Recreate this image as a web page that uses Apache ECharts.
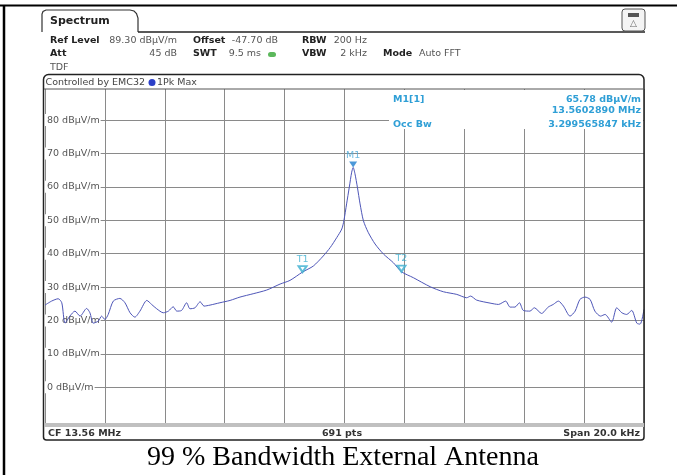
<!DOCTYPE html>
<html><head><meta charset="utf-8">
<script src="https://cdn.jsdelivr.net/npm/echarts@6/dist/echarts.min.js"></script>
<style>html,body{margin:0;padding:0;background:#fff}#c{width:677px;height:475px}</style>
</head><body><div id="c"></div><script>
// frequency offset from CF 13.56 MHz, kHz
const freqKHz = [-10.0,-9.78,-9.56,-9.44,-9.33,-9.17,-9.0,-8.83,-8.61,-8.5,-8.39,-8.22,-8.11,-8.0,-7.89,-7.72,-7.5,-7.33,-7.16,-7.0,-6.83,-6.6,-6.44,-6.27,-6.05,-5.88,-5.72,-5.6,-5.44,-5.27,-5.16,-4.99,-4.82,-4.69,-4.49,-4.16,-3.82,-3.49,-3.05,-2.6,-2.15,-1.82,-1.4,-1.04,-0.71,-0.48,-0.26,-0.09,-0.02,0.07,0.16,0.24,0.29,0.35,0.43,0.52,0.63,0.79,1.02,1.3,1.63,1.9,2.3,2.86,3.3,3.75,4.08,4.21,4.41,4.86,5.14,5.38,5.53,5.69,5.84,5.97,6.19,6.34,6.58,6.8,6.97,7.14,7.31,7.53,7.7,7.86,8.03,8.2,8.36,8.55,8.7,8.92,9.09,9.26,9.42,9.59,9.76,9.87,10.0];
// level, dBµV/m
const levelDb = [24.6,25.8,26.5,25.3,19.2,21.3,22.8,21.3,23.6,22.3,19.2,19.8,21.3,20.3,21.8,25.8,26.6,25.3,22.3,21.0,22.8,26.0,24.8,23.5,22.3,22.8,24.1,22.8,23.0,25.3,23.5,23.8,25.6,24.3,24.6,25.3,26.0,27.0,28.0,29.1,30.9,32.0,34.5,36.3,39.3,41.8,44.8,47.4,49.9,54.9,59.9,64.4,65.78,63.9,59.9,54.9,49.9,46.4,42.9,39.9,37.3,34.6,32.8,30.1,28.6,27.8,26.8,27.3,26.1,25.2,24.8,25.8,24.0,24.0,25.3,23.0,22.8,23.8,22.1,24.0,24.8,25.8,24.3,21.3,22.8,26.3,27.0,26.3,22.8,21.3,21.8,19.5,23.8,22.3,21.8,23.0,19.2,18.9,23.3];
const yTicks = [0,10,20,30,40,50,60,70,80];
const markerNames = ['M1','T1','T2'];
const markerFreq = [0.289,-1.40,1.90];
const markerLevel = [65.78,34.5,34.6];
const markerInfoLeft = ['M1[1]','Occ Bw'];
const markerInfoRight = ['65.78 dBµV/m','13.5602890 MHz','3.299565847 kHz'];
const caption = '99 % Bandwidth External Antenna';

const F = 'DejaVu Sans';
const BLUE = '#2f9fd6';
function txt(x, y, s, o) {
  o = o || {};
  return {type:'text', x:x, y:y, z:20, style:{text:s, fill:o.c||'#555', font:(o.b?'bold ':'')+(o.s||9.5)+'px "'+(o.f||F)+'"', textAlign:o.a||'left', textVerticalAlign:'middle'}};
}
const g = [];
// page border
g.push({type:'line', z:20, shape:{x1:0,y1:5.5,x2:677,y2:5.5}, style:{stroke:'#000', lineWidth:2}});
g.push({type:'line', z:20, shape:{x1:4,y1:5,x2:4,y2:475}, style:{stroke:'#000', lineWidth:2.5}});
// tab
g.push({type:'polyline', z:20, shape:{points:[[42,32],[42,14],[43,11.5],[46,10],[130,10],[134,11],[136.5,13.5],[138,18],[138,32]]}, style:{stroke:'#333', lineWidth:1.2, fill:null}});
g.push({type:'line', z:20, shape:{x1:138,y1:32,x2:645,y2:32}, style:{stroke:'#222', lineWidth:1.5}});
g.push(txt(50,21.5,'Spectrum',{b:true,s:11,c:'#222'}));
// icon
g.push({type:'rect', z:20, shape:{x:622,y:9,width:23,height:22,r:3}, style:{stroke:'#555', lineWidth:1, fill:'#f4f4f4'}});
g.push({type:'rect', z:21, shape:{x:628,y:13,width:11,height:4}, style:{fill:'#555'}});
g.push(txt(633.5,24,'△',{s:9,c:'#666',a:'center'}));
// header
g.push(txt(50,40.5,'Ref Level',{b:true,c:'#222'}));
g.push(txt(177,40.5,'89.30 dBµV/m',{a:'right'}));
g.push(txt(193,40.5,'Offset',{b:true,c:'#222'}));
g.push(txt(278,40.5,'-47.70 dB',{a:'right'}));
g.push(txt(302,40.5,'RBW',{b:true,c:'#222'}));
g.push(txt(367,40.5,'200 Hz',{a:'right'}));
g.push(txt(50,54,'Att',{b:true,c:'#222'}));
g.push(txt(177,54,'45 dB',{a:'right'}));
g.push(txt(193,54,'SWT',{b:true,c:'#222'}));
g.push(txt(261,54,'9.5 ms',{a:'right'}));
g.push({type:'rect', z:20, shape:{x:268,y:52,width:8,height:5,r:2.5}, style:{fill:'#5cb85c'}});
g.push(txt(302,54,'VBW',{b:true,c:'#222'}));
g.push(txt(367,54,'2 kHz',{a:'right'}));
g.push(txt(383,54,'Mode',{b:true,c:'#222'}));
g.push(txt(419,54,'Auto FFT'));
g.push(txt(50,67.5,'TDF'));
// frame
g.push({type:'rect', z:20, shape:{x:43.5,y:74.5,width:600.5,height:365.5,r:[5,5,3,3]}, style:{stroke:'#222', lineWidth:1.5, fill:null}});
g.push({type:'line', z:20, shape:{x1:44,y1:89,x2:644,y2:89}, style:{stroke:'#555', lineWidth:1}});
g.push(txt(45.5,82.3,'Controlled by EMC32',{c:'#444'}));
g.push({type:'circle', z:20, shape:{cx:152,cy:82.5,r:3.5}, style:{fill:'#2b3fc8'}});
g.push(txt(157,82.3,'1Pk Max',{c:'#444'}));
g.push({type:'rect', z:20, shape:{x:44,y:423,width:600,height:4}, style:{fill:'#c0c0c0'}});
g.push(txt(48,433.5,'CF 13.56 MHz',{b:true,c:'#333'}));
g.push(txt(342,433.5,'691 pts',{b:true,c:'#333',a:'center'}));
g.push(txt(640,433.5,'Span 20.0 kHz',{b:true,c:'#333',a:'right'}));
// marker info box
g.push({type:'rect', z:15, shape:{x:389,y:90,width:254,height:39}, style:{fill:'#fff'}});
g.push(txt(393,99.5,markerInfoLeft[0],{b:true,c:BLUE}));
g.push(txt(393,124.3,markerInfoLeft[1],{b:true,c:BLUE}));
g.push(txt(641,99.5,markerInfoRight[0],{b:true,c:BLUE,a:'right'}));
g.push(txt(641,111,markerInfoRight[1],{b:true,c:BLUE,a:'right'}));
g.push(txt(641,124.3,markerInfoRight[2],{b:true,c:BLUE,a:'right'}));
// caption
g.push(txt(343,458,caption,{s:28,f:'Liberation Serif',c:'#000',a:'center'}));

const chart = echarts.init(document.getElementById('c'), null, {renderer:'canvas'});
chart.setOption({
  animation:false,
  backgroundColor:'#fff',
  grid:{left:45, right:33, top:89, height:334},
  xAxis:{type:'value', min:-10, max:10, interval:2,
    axisLine:{show:false}, axisTick:{show:false}, axisLabel:{show:false},
    splitLine:{lineStyle:{color:'#8a8a8a', width:1}}},
  yAxis:{type:'value', min:-10.7, max:89.3,
    axisLine:{show:false}, axisTick:{show:false, customValues:yTicks},
    axisLabel:{customValues:yTicks, inside:true, margin:0, formatter:v=>v+' dBµV/m',
      color:'#555', fontSize:9.5, fontFamily:F, backgroundColor:'#fff', padding:[1,1,1,2]},
    splitLine:{lineStyle:{color:'#8a8a8a', width:1}}},
  series:[
    {type:'line', data:freqKHz.map((f,i)=>[f,levelDb[i]]), showSymbol:false, smooth:0.25,
      lineStyle:{color:'#4e56b8', width:1}, z:3},
    {type:'scatter', z:4,
      data:markerNames.map((n,i)=>({name:n, value:[markerFreq[i],markerLevel[i]],
        symbol: i===0 ? 'triangle' : 'emptyTriangle',
        itemStyle:{color: i===0 ? '#1f7fd0' : '#3aaed0', borderColor: i===0 ? '#1f7fd0' : '#3aaed0', borderWidth: i===0?0:1},
        label:{color: i===0 ? '#4aa8d8' : '#3aaed0'}})),
      symbolSize:[8,6], symbolRotate:180, symbolOffset:[0,-3],
      label:{show:true, position:'top', distance:1, formatter:p=>p.name, fontSize:9.5, fontFamily:F}}
  ],
  graphic:{elements:g}
});
</script></body></html>
